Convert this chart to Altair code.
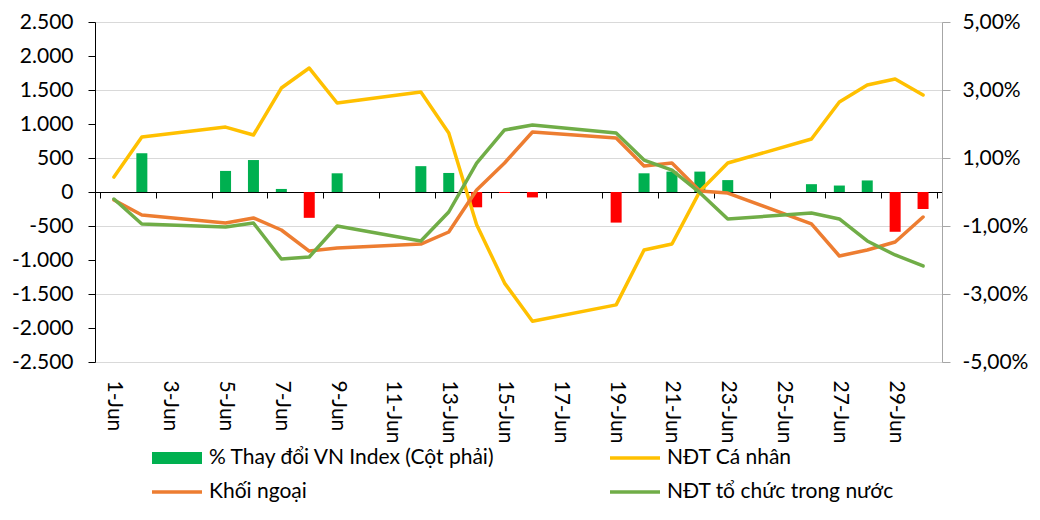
import altair as alt
import pandas as pd

# ---------------- data ----------------
trading_days = ["1-Jun", "2-Jun", "5-Jun", "6-Jun", "7-Jun", "8-Jun", "9-Jun",
                "12-Jun", "13-Jun", "14-Jun", "15-Jun", "16-Jun", "19-Jun",
                "20-Jun", "21-Jun", "22-Jun", "23-Jun", "26-Jun", "27-Jun",
                "28-Jun", "29-Jun", "30-Jun"]
vn_index_pct = [0.0, 1.14, 0.62, 0.94, 0.09, -0.76, 0.55, 0.76, 0.56, -0.45, -0.03,
                -0.16, -0.90, 0.55, 0.60, 0.60, 0.35, 0.23, 0.19, 0.34, -1.17, -0.50]
ca_nhan = [220, 809, 955, 838, 1529, 1823, 1309, 1470, 868, -480, -1340, -1900,
           -1660, -853, -765, 10, 426, 779, 1324, 1574, 1662, 1426]
khoi_ngoai = [-118, -338, -456, -382, -559, -868, -823, -765, -588, 30, 426, 882,
              794, 382, 426, 15, -15, -470, -941, -853, -735, -368]
to_chuc = [-103, -470, -515, -456, -985, -956, -500, -720, -294, 426, 912, 985,
           867, 470, 323, -10, -397, -309, -397, -720, -926, -1088]

tick_labels = ["1-Jun", "3-Jun", "5-Jun", "7-Jun", "9-Jun", "11-Jun", "13-Jun",
               "15-Jun", "17-Jun", "19-Jun", "21-Jun", "23-Jun", "25-Jun",
               "27-Jun", "29-Jun"]
n_days = 30
left_ticks = [-2500, -2000, -1500, -1000, -500, 0, 500, 1000, 1500, 2000, 2500]
right_ticks = [-5, -3, -1, 1, 3, 5]

series_names = ["% Thay đổi VN Index (Cột phải)", "NĐT Cá nhân", "Khối ngoại",
                "NĐT tổ chức trong nước"]
series_colors = ["#00B050", "#FFC000", "#ED7D31", "#70AD47"]
neg_color = "#FF0000"

FONT = "Lato"
FS = 21
W, H = 847, 340

day_num = [int(d.split("-")[0]) for d in trading_days]
bars_df = pd.DataFrame({"day": day_num, "label": trading_days, "pct": vn_index_pct})

line_series = [(series_names[1], series_colors[1], ca_nhan),
               (series_names[2], series_colors[2], khoi_ngoai),
               (series_names[3], series_colors[3], to_chuc)]

x_scale = alt.Scale(domain=[0.5, n_days + 0.5], nice=False, zero=False)
y_scale = alt.Scale(domain=[-2500, 2500], nice=False)

label_values = [int(t.split("-")[0]) for t in tick_labels]
boundary_values = [v - 0.5 for v in label_values] + [n_days + 0.5]

# ---------------- bars (right axis) ----------------
bars = alt.Chart(bars_df).mark_bar(size=11).encode(
    x=alt.X("day:Q", scale=x_scale, title=None,
            axis=alt.Axis(values=label_values, labelExpr="datum.value + '-Jun'",
                          orient="bottom", domain=False, ticks=False, tickSize=0,
                          grid=False, labelAngle=90, labelPadding=18,
                          labelFont=FONT, labelFontSize=FS, labelColor="black")),
    y=alt.Y("pct:Q", scale=alt.Scale(domain=[-5, 5], nice=False), title=None,
            axis=alt.Axis(orient="right", values=right_ticks,
                          labelExpr="(datum.value < 0 ? '-' : '') + replace(format(abs(datum.value), '.2f'), '.', ',') + '%'",
                          domainColor="#A6A6A6", tickColor="#A6A6A6", tickSize=8,
                          labelPadding=12, grid=True, gridColor="#D9D9D9",
                          labelFont=FONT, labelFontSize=FS, labelColor="black")),
    color=alt.condition("datum.pct < 0", alt.value(neg_color), alt.value(series_colors[0])),
)

# ---------------- lines (left axis) ----------------
line_layers = []
for i, (name, col, vals) in enumerate(line_series):
    df = pd.DataFrame({"day": day_num, "label": trading_days, "value": vals, "series": name})
    if i == 0:
        xax = alt.Axis(values=boundary_values, labels=False, orient="bottom",
                       offset=-H / 2, domain=True, domainColor="black", domainWidth=1,
                       ticks=True, tickSize=6, tickColor="black", grid=False)
        yax = alt.Axis(orient="left", values=left_ticks,
                       labelExpr="(datum.value < 0 ? '-' : '') + replace(format(abs(datum.value), ','), ',', '.')",
                       domainColor="black", tickColor="black", tickSize=7,
                       labelPadding=15, grid=False,
                       labelFont=FONT, labelFontSize=FS, labelColor="black")
    else:
        xax = None
        yax = None
    layer = alt.Chart(df).mark_line(strokeWidth=3.5, strokeCap="round",
                                    strokeJoin="round", color=col).encode(
        x=alt.X("day:Q", scale=x_scale, title=None, axis=xax),
        y=alt.Y("value:Q", scale=y_scale, title=None, axis=yax),
    )
    line_layers.append(layer)

# ---------------- legend ----------------
rect_path = "M-1,-0.24H1V0.24H-1Z"
line_path = "M-1,-0.07H1V0.07H-1Z"
leg = alt.Legend(orient="none", legendX=57, legendY=425, columns=2,
                 direction="horizontal",
                 columnPadding=114, rowPadding=12, symbolSize=2500, clipHeight=22,
                 labelFont=FONT, labelFontSize=FS, labelColor="black",
                 labelOffset=7, symbolStrokeWidth=0, title=None, padding=0,
                 labelLimit=500, symbolOpacity=1)
legend_df = pd.DataFrame({"series": series_names})
legend_layer = alt.Chart(legend_df).mark_point(filled=True).encode(
    color=alt.Color("series:N", scale=alt.Scale(domain=series_names, range=series_colors),
                    legend=leg),
    shape=alt.Shape("series:N",
                    scale=alt.Scale(domain=series_names,
                                    range=[rect_path, line_path, line_path, line_path]),
                    legend=leg),
).transform_filter("false")

chart = alt.layer(bars, *line_layers, legend_layer).resolve_scale(
    y="independent"
).resolve_axis(
    x="independent", y="independent"
).properties(
    width=W, height=H,
    padding={"left": 87, "top": 14, "right": 90, "bottom": 150},
    autosize=alt.AutoSizeParams(type="none"),
    background="white",
).configure_view(stroke=None).configure(font=FONT)

chart.save("out.html", embed_options={"renderer": "svg", "actions": False})
